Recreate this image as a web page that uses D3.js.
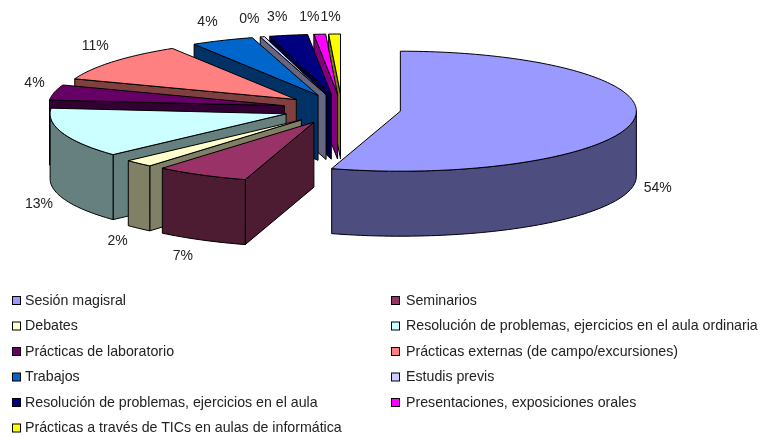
<!DOCTYPE html>
<html>
<head>
<meta charset="utf-8">
<script src="https://cdn.jsdelivr.net/npm/d3@7"></script>
<style>
  html, body { margin: 0; padding: 0; background: #fff; }
  svg { display: block; }
  text { font-family: "Liberation Sans", Arial, sans-serif; font-size: 14px; fill: #222; }
  .legend text { font-size: 14.2px; }
</style>
</head>
<body>
<svg width="764" height="436"></svg>
<script>
// chart values, clockwise from 12 o'clock
var categories = [
  "Sesión magisral",
  "Seminarios",
  "Debates",
  "Resolución de problemas, ejercicios en el aula ordinaria",
  "Prácticas de laboratorio",
  "Prácticas externas (de campo/excursiones)",
  "Trabajos",
  "Estudis previs",
  "Resolución de problemas, ejercicios en el aula",
  "Presentaciones, exposiciones orales",
  "Prácticas a través de TICs en aulas de informática"
];
// slice sizes as measured on the picture, labels as printed on it
var values = [54.7, 6.4, 2.0, 13.4, 4.1, 10.6, 4.3, 0.3, 2.6, 0.8, 0.8];
var percentLabels = ["54%", "7%", "2%", "13%", "4%", "11%", "4%", "0%", "3%", "1%", "1%"];
var colors = ["#9999ff", "#993366", "#ffffcc", "#ccffff", "#660066", "#ff8080", "#0066cc", "#ccccff", "#000080", "#ff00ff", "#ffff00"];

var svg = d3.select("svg"),
    // pie center and ellipse radii
    cx = 342,
    cy = 109,
    rx = 236,
    ry = 60,
    depth = 65,
    explode = 0.25;

// basic projection: angle is clockwise from 12 o'clock
function px(a, r) { return rx * r * Math.sin(a); }
function py(a, r) { return -ry * r * Math.cos(a); }

var line = d3.line();

var arcs = d3.pie().sort(null).value(function (d) { return d; })(values);

arcs.forEach(function (d, i) {
  var mid = (d.startAngle + d.endAngle) / 2;
  var c = d3.rgb(colors[i]);
  d.name = categories[i];
  d.label = percentLabels[i];
  d.color = colors[i];
  // side faces are the top colour at half strength
  d.side = d3.rgb(c.r / 2, c.g / 2, c.b / 2).formatHex();
  d.mid = mid;
  d.ax = cx + px(mid, explode);
  d.ay = cy + py(mid, explode);
});

// points along the outer edge of a slice
function rim(d, a0, a1, dy) {
  var n = Math.max(2, Math.ceil((a1 - a0) * 40));
  return d3.range(n + 1).map(function (k) {
    var a = a0 + (a1 - a0) * k / n;
    return [d.ax + px(a, 1), d.ay + py(a, 1) + dy];
  });
}

var g = svg.append("g").attr("filter", "url(#soft)");

var defs = svg.append("defs");
defs.append("filter").attr("id", "soft")
  .append("feGaussianBlur").attr("stdDeviation", 0.35);

// back slices first, so the front ones cover them
arcs.slice().reverse().forEach(function (d) {
  var slice = g.append("g").attr("class", "slice");
  var s = d.startAngle, e = d.endAngle;
  var sx = d.ax + px(s, 1), sy = d.ay + py(s, 1);

  // cut face on the start side, only when it looks at the viewer
  if (s > Math.PI) {
    slice.append("path")
      .attr("d", line([[d.ax, d.ay], [sx, sy], [sx, sy + depth], [d.ax, d.ay + depth]]) + "Z")
      .attr("fill", d.side).attr("stroke", "#000").attr("stroke-width", 1);
  }

  // outer wall, front half of the ellipse only
  var w0 = Math.max(s, Math.PI / 2), w1 = Math.min(e, Math.PI * 1.5);
  if (w1 > w0) {
    var wall = rim(d, w0, w1, 0).concat(rim(d, w0, w1, depth).reverse());
    slice.append("path")
      .attr("d", line(wall) + "Z")
      .attr("fill", d.side).attr("stroke", "#000").attr("stroke-width", 1);
  }

  // top surface
  var top = [[d.ax, d.ay]].concat(rim(d, s, e, 0));
  slice.append("path")
    .attr("d", line(top) + "Z")
    .attr("fill", d.color).attr("stroke", "#000").attr("stroke-width", 1);
});

// percent labels
var labels = svg.append("g").attr("filter", "url(#soft)").selectAll("text")
  .data(arcs)
  .enter().append("text")
  .attr("x", function (d) {
    var front = Math.cos(d.mid) < 0;
    d.lx = d.ax + px(d.mid, 1) + (front ? 24 : 20) * Math.cbrt(Math.sin(d.mid));
    return d.lx;
  })
  .attr("y", function (d) {
    var c = Math.cos(d.mid), front = c < 0;
    return d.ay + py(d.mid, 1) - 18 * c + (front ? depth - 1 : -6 * Math.abs(Math.sin(d.mid)));
  })
  .attr("dy", ".35em")
  .attr("text-anchor", "middle")
  .text(function (d) { return d.label; });

// push neighbours apart when two labels would touch (the two 1% at the top)
var nodes = labels.nodes();
for (var i = 1; i < nodes.length; i++) {
  var a = arcs[i - 1], b = arcs[i];
  if (Math.cos(a.mid) < 0 || Math.cos(b.mid) < 0) continue;
  var need = (nodes[i - 1].getComputedTextLength() + nodes[i].getComputedTextLength()) / 2 + 1;
  var gap = b.lx - a.lx;
  if (gap < need) {
    a.lx -= (need - gap) / 2;
    b.lx += (need - gap) / 2;
    d3.select(nodes[i - 1]).attr("x", a.lx);
    d3.select(nodes[i]).attr("x", b.lx);
  }
}

// legend, two columns filled row by row
var rowY = d3.scalePoint().domain(d3.range(6)).range([300, 427.5]);
var colX = d3.scalePoint().domain([0, 1]).range([12, 391]);

var legend = svg.append("g").attr("class", "legend").attr("filter", "url(#soft)").selectAll("g")
  .data(arcs)
  .enter().append("g")
  .attr("transform", function (d, i) {
    return "translate(" + colX(i % 2) + "," + rowY(Math.floor(i / 2)) + ")";
  });

legend.append("rect")
  .attr("x", 0.5).attr("y", -3.5).attr("width", 8).attr("height", 8)
  .attr("fill", function (d) { return d.color; })
  .attr("stroke", "#000");

legend.append("text")
  .attr("x", function (d, i) { return i % 2 ? 15 : 13; })
  .attr("dy", ".35em")
  .text(function (d) { return d.name; });
</script>
</body>
</html>
